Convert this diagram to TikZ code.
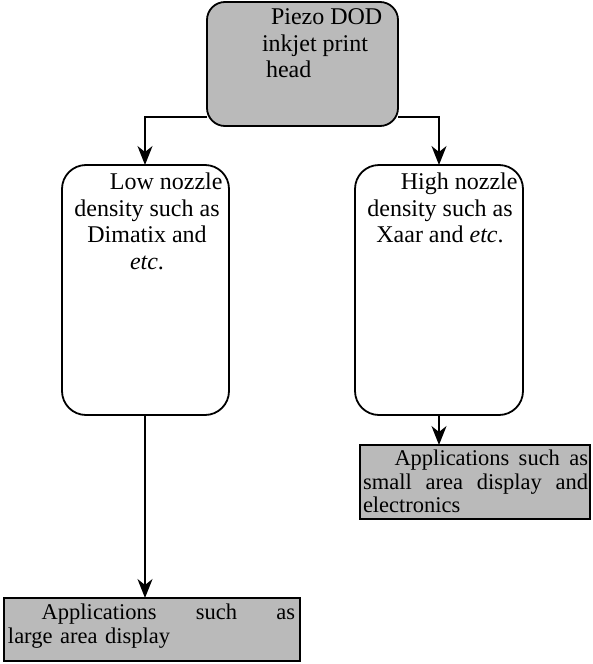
\documentclass[tikz,border=0pt]{standalone}
\usepackage{fontspec}
\setmainfont{Liberation Serif}
\usetikzlibrary{arrows.meta}
\begin{document}
\begin{tikzpicture}[x=1pt,y=-1pt,
  every node/.style={inner sep=0pt,outer sep=0pt},
  grayfill/.style={fill=black!27},
  rbox/.style={draw=black,line width=1.8pt,rounded corners=24pt},
  sbox/.style={draw=black,line width=1.8pt},
  txt/.style={font=\fontsize{24}{26.5}\selectfont},
  stxt/.style={font=\fontsize{22.5}{23.5}\selectfont},
  conn/.style={draw=black,line width=1.8pt,-{Stealth[length=19pt,width=15pt,inset=6pt]}}]
\useasboundingbox (0,0) rectangle (593,664);
% top box
\draw[rbox,grayfill,rounded corners=18pt] (207,2) rectangle (398,126);
\node[txt,align=left,anchor=north west] (top) at (262,9) {\hspace*{9pt}Piezo DOD\\inkjet print\\\hspace*{4pt}head};
\coordinate (topL) at (207,117);
\coordinate (topR) at (398,117);
% middle boxes
\draw[rbox] (62,165) rectangle (229,415);
\draw[rbox] (355,165) rectangle (523,415);
\coordinate (lowT) at (145,165);
\coordinate (lowB) at (145,415);
\coordinate (highT) at (439,165);
\coordinate (highB) at (439,415);
\node[txt,align=center,anchor=north] (low) at (147,173) {\hspace*{1.6em}Low nozzle\\density such as\\Dimatix and\\\emph{etc}.};
\node[txt,align=center,anchor=north] (high) at (440,173) {\hspace*{1.6em}High nozzle\\density such as\\Xaar and \emph{etc}.};
% bottom boxes
\draw[sbox,grayfill] (360,445) rectangle (590,519);
\coordinate (appsT) at (439,445);
\node[stxt,align=left,anchor=north west,text width=225pt] (apps) at (363,450) {\hspace*{1.4em}Applications\hfill such\hfill as\\small\hfill area\hfill display\hfill and\\electronics};
\draw[sbox,grayfill] (4,598) rectangle (300,661);
\coordinate (appbT) at (145,598);
\node[stxt,align=left,anchor=north west,text width=287pt] (appb) at (8,604) {\hspace*{1.5em}Applications\hfill such\hfill as\\large area display};
% connectors
\draw[conn] (topL) -| (lowT);
\draw[conn] (topR) -| (highT);
\draw[conn] (lowB) -- (appbT);
\draw[conn] (highB) -- (appsT);
\end{tikzpicture}
\end{document}
